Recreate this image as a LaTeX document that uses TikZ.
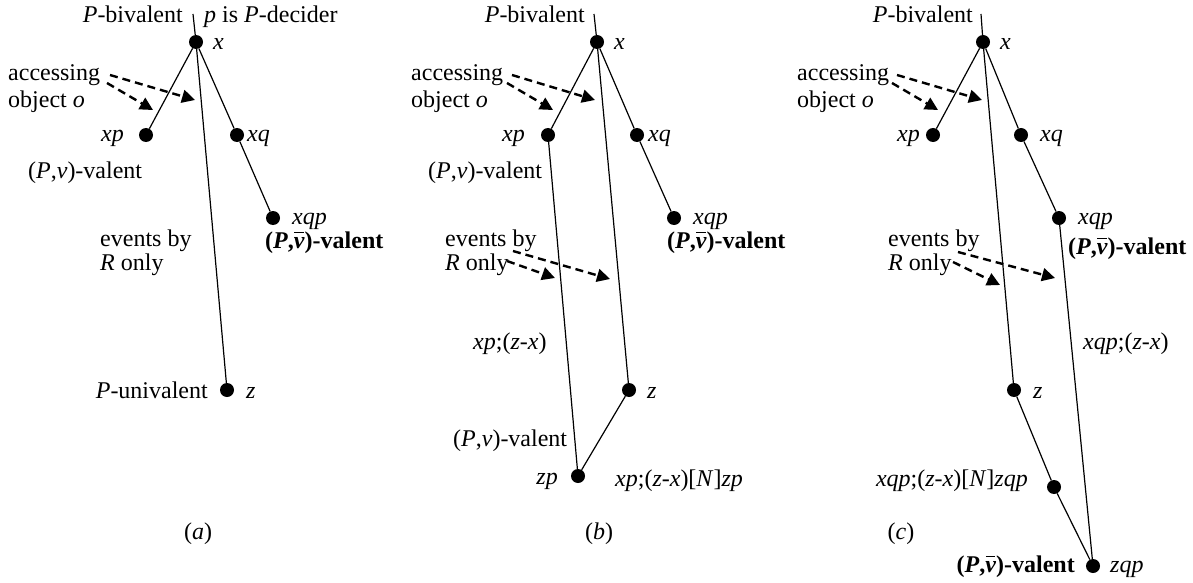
\documentclass[tikz,border=0pt]{standalone}
\usepackage{fontspec}
\setmainfont{Liberation Serif}
\usetikzlibrary{arrows.meta}
\newcommand{\vbr}{\textit{v}\llap{\rule[0.62em]{0.4em}{0.06em}\kern0.03em}}
\newcommand{\pvbar}{\textbf{(\textit{P},\vbr)-valent}}
\begin{document}
\begin{tikzpicture}[x=1pt,y=-1pt,
  dot/.style={circle,fill=black,inner sep=0pt,minimum size=14pt},
  lbl/.style={inner sep=0pt,font=\fontsize{24}{27}\selectfont,text height=17pt,text depth=5pt},
  seg/.style={line width=1.2pt},
  darr/.style={line width=2.4pt,dash pattern=on 8pt off 5pt,-{Triangle[length=13pt,width=13pt]}}
]
\useasboundingbox (0,0) rectangle (1193,583);

% ---------------- panel (a)
\node[dot] (xa) at (196,42) {};
\node[dot] (xpa) at (146,135) {};
\node[dot] (xqa) at (237,135) {};
\node[dot] (xqpa) at (273,218) {};
\node[dot] (za) at (227,390) {};
\coordinate (ta) at (193,14);
\draw[seg] (ta) -- (xa);
\draw[seg] (xa) -- (xpa);
\draw[seg] (xa) -- (xqa);
\draw[seg] (xqa) -- (xqpa);
\draw[seg] (xa) -- (za);
\node[lbl,anchor=east] (pbiva) at (183,17) {\textit{P}-bivalent};
\node[lbl,anchor=west] (deca) at (204,17) {\textit{p} is \textit{P}-decider};
\node[lbl,anchor=west] (xla) at (213,44) {\textit{x}};
\node[lbl,anchor=east] (xpla) at (124,135) {\textit{xp}};
\node[lbl,anchor=west] (xqla) at (247,135) {\textit{xq}};
\node[lbl,anchor=west] (xqpla) at (292,218) {\textit{xqp}};
\node[lbl,anchor=west] (pva) at (28,172) {(\textit{P},\textit{v})-valent};
\node[lbl,anchor=west] (pvba) at (265,242) {\pvbar};
\node[lbl,anchor=west] (acc1a) at (8,75) {accessing};
\node[lbl,anchor=west] (acc2a) at (8,101) {object \textit{o}};
\node[lbl,anchor=west] (ev1a) at (100,240) {events by};
\node[lbl,anchor=west] (ev2a) at (100,264) {\textit{R} only};
\node[lbl,anchor=east] (puna) at (208,392) {\textit{P}-univalent};
\node[lbl,anchor=west] (zla) at (246,392) {\textit{z}};
\node[lbl] (capa) at (198,533) {(\textit{a})};
\coordinate (a1s) at (107,83); \coordinate (a1e) at (153,110);
\coordinate (a2s) at (110,75); \coordinate (a2e) at (195,100);
\draw[darr] (a1s) -- (a1e);
\draw[darr] (a2s) -- (a2e);

% ---------------- panel (b)
\node[dot] (xb) at (597,42) {};
\node[dot] (xpb) at (548,135) {};
\node[dot] (xqb) at (637,135) {};
\node[dot] (xqpb) at (674,218) {};
\node[dot] (zb) at (629,390) {};
\node[dot] (zpb) at (578,476) {};
\coordinate (tb) at (594,14);
\draw[seg] (tb) -- (xb);
\draw[seg] (xb) -- (xpb);
\draw[seg] (xb) -- (xqb);
\draw[seg] (xqb) -- (xqpb);
\draw[seg] (xb) -- (zb);
\draw[seg] (xpb) -- (zpb);
\draw[seg] (zb) -- (zpb);
\node[lbl,anchor=east] (pbivb) at (585,17) {\textit{P}-bivalent};
\node[lbl,anchor=west] (xlb) at (614,44) {\textit{x}};
\node[lbl,anchor=east] (xplb) at (525,135) {\textit{xp}};
\node[lbl,anchor=west] (xqlb) at (648,135) {\textit{xq}};
\node[lbl,anchor=west] (xqplb) at (693,218) {\textit{xqp}};
\node[lbl,anchor=west] (pvb) at (428,172) {(\textit{P},\textit{v})-valent};
\node[lbl,anchor=west] (pvbb) at (667,242) {\pvbar};
\node[lbl,anchor=west] (acc1b) at (411,75) {accessing};
\node[lbl,anchor=west] (acc2b) at (411,101) {object \textit{o}};
\node[lbl,anchor=west] (ev1b) at (445,240) {events by};
\node[lbl,anchor=west] (ev2b) at (445,264) {\textit{R} only};
\node[lbl,anchor=west] (xpzb) at (473,343) {\textit{xp};(\textit{z}-\textit{x})};
\node[lbl,anchor=west] (zlb) at (647,392) {\textit{z}};
\node[lbl,anchor=west] (pv2b) at (453,440) {(\textit{P},\textit{v})-valent};
\node[lbl,anchor=east] (zplb) at (558,478) {\textit{zp}};
\node[lbl,anchor=west] (xpnb) at (615,480) {\textit{xp};(\textit{z}-\textit{x})[\textit{N}]\textit{zp}};
\node[lbl] (capb) at (599,533) {(\textit{b})};
\coordinate (b1s) at (507,83); \coordinate (b1e) at (553,110);
\coordinate (b2s) at (512,75); \coordinate (b2e) at (595,100);
\coordinate (b3s) at (507,261); \coordinate (b3e) at (555,278);
\coordinate (b4s) at (513,251); \coordinate (b4e) at (610,279);
\draw[darr] (b1s) -- (b1e);
\draw[darr] (b2s) -- (b2e);
\draw[darr] (b3s) -- (b3e);
\draw[darr] (b4s) -- (b4e);

% ---------------- panel (c)
\node[dot] (xc) at (983,42) {};
\node[dot] (xpc) at (933,135) {};
\node[dot] (xqc) at (1021,135) {};
\node[dot] (xqpc) at (1059,218) {};
\node[dot] (zc) at (1014,390) {};
\node[dot] (mc) at (1054,487) {};
\node[dot] (zqpc) at (1093,566) {};
\coordinate (tc) at (981,14);
\draw[seg] (tc) -- (xc);
\draw[seg] (xc) -- (xpc);
\draw[seg] (xc) -- (xqc);
\draw[seg] (xqc) -- (xqpc);
\draw[seg] (xc) -- (zc);
\draw[seg] (xqpc) -- (zqpc);
\draw[seg] (zc) -- (mc);
\draw[seg] (mc) -- (zqpc);
\node[lbl,anchor=east] (pbivc) at (973,17) {\textit{P}-bivalent};
\node[lbl,anchor=west] (xlc) at (1000,44) {\textit{x}};
\node[lbl,anchor=east] (xplc) at (920,135) {\textit{xp}};
\node[lbl,anchor=west] (xqlc) at (1040,135) {\textit{xq}};
\node[lbl,anchor=west] (xqplc) at (1078,218) {\textit{xqp}};
\node[lbl,anchor=west] (pvbc) at (1068,248) {\pvbar};
\node[lbl,anchor=west] (acc1c) at (797,75) {accessing};
\node[lbl,anchor=west] (acc2c) at (797,101) {object \textit{o}};
\node[lbl,anchor=west] (ev1c) at (888,240) {events by};
\node[lbl,anchor=west] (ev2c) at (888,264) {\textit{R} only};
\node[lbl,anchor=west] (xqpzc) at (1083,343) {\textit{xqp};(\textit{z}-\textit{x})};
\node[lbl,anchor=west] (zlc) at (1033,392) {\textit{z}};
\node[lbl,anchor=east] (xqpnc) at (1028,480) {\textit{xqp};(\textit{z}-\textit{x})[\textit{N}]\textit{zqp}};
\node[lbl] (capc) at (901,533) {(\textit{c})};
\node[lbl,anchor=east] (pvb2c) at (1075,566) {\pvbar};
\node[lbl,anchor=west] (zqplc) at (1110,566) {\textit{zqp}};
\coordinate (c1s) at (892,83); \coordinate (c1e) at (938,110);
\coordinate (c2s) at (897,75); \coordinate (c2e) at (982,100);
\coordinate (c3s) at (953,262); \coordinate (c3e) at (1000,285);
\coordinate (c4s) at (958,252); \coordinate (c4e) at (1055,278);
\draw[darr] (c1s) -- (c1e);
\draw[darr] (c2s) -- (c2e);
\draw[darr] (c3s) -- (c3e);
\draw[darr] (c4s) -- (c4e);
\end{tikzpicture}
\end{document}
